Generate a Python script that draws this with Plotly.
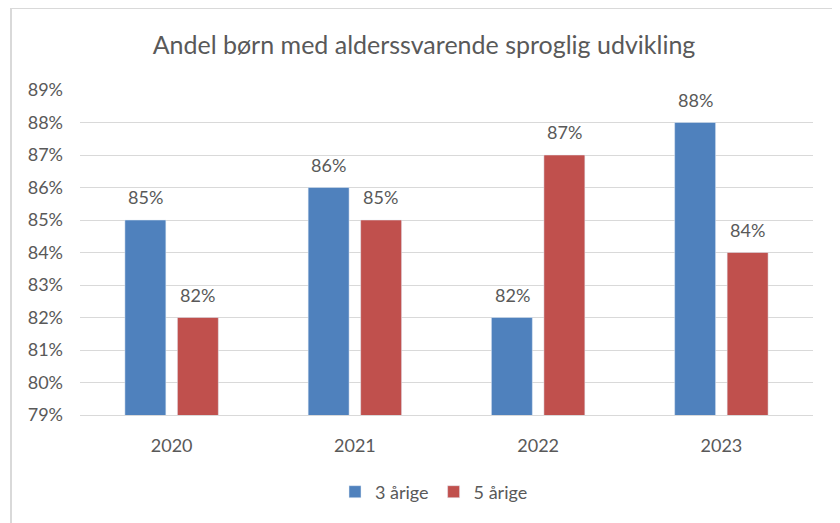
import plotly.graph_objects as go

years = ["2020", "2021", "2022", "2023"]
age3 = [0.85, 0.86, 0.82, 0.88]
age5 = [0.82, 0.85, 0.87, 0.84]
labels3 = ["85%", "86%", "82%", "88%"]
labels5 = ["82%", "85%", "87%", "84%"]

font = "Lato, 'Open Sans', sans-serif"
txt = "#595959"

# page body has an 8px margin; work in screen coords and convert
OFF = 8
FW, FH = 832, 515

fig = go.Figure()
fig.add_trace(go.Bar(name="3 årige", x=years, y=age3, marker_color="#4F81BD"))
fig.add_trace(go.Bar(name="5 årige", x=years, y=age5, marker_color="#C0504D"))

L, R, T, B = 80 - OFF, 813 - OFF, 90 - OFF, 415 - OFF
W, H = R - L, B - T
def px(x): return (x - OFF - L) / W
def py(y): return (B - (y - OFF)) / H

# category index positions (category axis maps index i -> years[i])
for i, (v, t) in enumerate(zip(age3, labels3)):
    fig.add_annotation(x=i, y=v, text=t, showarrow=False, xshift=-26,
                       yshift=23, yanchor="middle",
                       font=dict(size=18, color=txt, family=font))
for i, (v, t) in enumerate(zip(age5, labels5)):
    fig.add_annotation(x=i, y=v, text=t, showarrow=False, xshift=26,
                       yshift=23, yanchor="middle",
                       font=dict(size=18, color=txt, family=font))

fig.update_layout(
    width=FW, height=FH,
    margin=dict(l=L, r=FW - R, t=T, b=FH - B),
    paper_bgcolor="white", plot_bgcolor="white",
    barmode="group", bargap=0.427, bargroupgap=0.22,
    font=dict(family=font, color=txt, size=18),
    title=dict(text="Andel børn med alderssvarende sproglig udvikling",
               x=0.5, xanchor="center", y=1 - (45 - OFF) / FH, yanchor="middle",
               font=dict(size=25, color=txt, family=font)),
    yaxis=dict(range=[0.79, 0.89], dtick=0.01, tickformat=".0%",
               showgrid=True, gridcolor="#d9d9d9", gridwidth=1,
               zeroline=False, showline=False, ticks="",
               ticklabelstandoff=16, tickfont=dict(size=18, color=txt)),
    xaxis=dict(type="category", range=[-0.5, len(years) - 0.5],
               showline=True, linecolor="#d9d9d9", ticks="",
               ticklabelstandoff=14, tickfont=dict(size=18, color=txt)),
    legend=dict(orientation="h", x=px(434), xanchor="center",
                y=py(492), yanchor="middle", font=dict(size=18, color=txt),
                itemwidth=30, traceorder="normal"),
    showlegend=True,
)

fig.add_shape(type="rect", xref="paper", yref="paper",
              x0=px(11), x1=px(838), y0=py(540), y1=py(8),
              line=dict(color="#d9d9d9", width=2), fillcolor="rgba(0,0,0,0)",
              layer="below")

fig.write_html("out.html", config={"displayModeBar": False})
